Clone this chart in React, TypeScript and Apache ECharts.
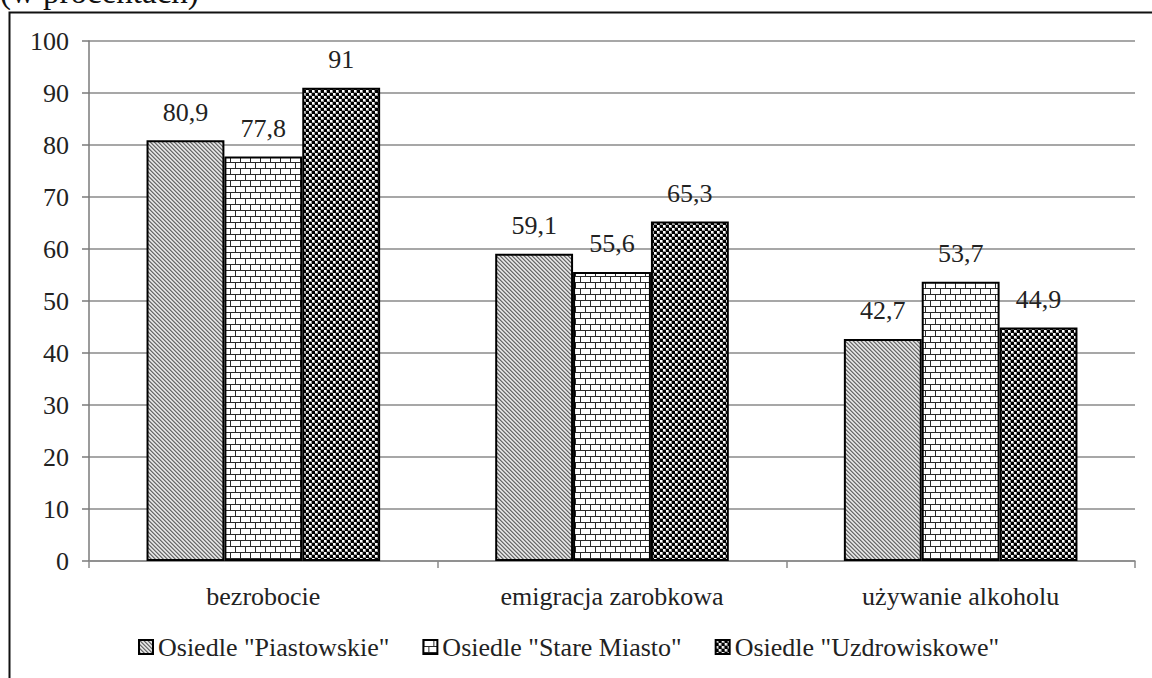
import React, { useEffect, useRef } from "react";
import * as echarts from "echarts";

const categories = ["bezrobocie", "emigracja zarobkowa", "używanie alkoholu"];
const seriesNames = [
  'Osiedle "Piastowskie"',
  'Osiedle "Stare Miasto"',
  'Osiedle "Uzdrowiskowe"',
];
const piastowskie = [80.9, 59.1, 42.7];
const stareMiasto = [77.8, 55.6, 53.7];
const uzdrowiskowe = [91, 65.3, 44.9];
const yTicks = { min: 0, max: 100, interval: 10 };
const titleText = "(w procentach)";

const FONT = "'Times New Roman', 'Liberation Serif', serif";

function hexToRgb(h: string) {
  const v = parseInt(h.slice(1), 16);
  return [(v >> 16) & 255, (v >> 8) & 255, v & 255];
}

function makeTile(w: number, h: number, fn: (x: number, y: number) => string) {
  const c = document.createElement("canvas");
  c.width = w;
  c.height = h;
  const ctx = c.getContext("2d")!;
  const img = ctx.createImageData(w, h);
  for (let y = 0; y < h; y++) {
    for (let x = 0; x < w; x++) {
      const [r, g, b] = hexToRgb(fn(x, y));
      const i = (y * w + x) * 4;
      img.data[i] = r;
      img.data[i + 1] = g;
      img.data[i + 2] = b;
      img.data[i + 3] = 255;
    }
  }
  ctx.putImageData(img, 0, 0);
  return c;
}

function diagonalTile() {
  const cols = ["#6a6a6a", "#a0a0a0", "#e8e8e8", "#d0d0d0"];
  return makeTile(4, 4, (x, y) => cols[(((x - y) % 4) + 4) % 4]);
}

function brickTile() {
  return makeTile(10, 12, (x, y) => {
    if (y === 0 || y === 6) return "#2a2a2a";
    if (y < 6 && x === 0) return "#2a2a2a";
    if (y > 6 && x === 5) return "#2a2a2a";
    return "#ffffff";
  });
}

function checkerTile() {
  return makeTile(6, 6, (x, y) => {
    const cx = Math.floor(x / 3);
    const cy = Math.floor(y / 3);
    const lx = x % 3;
    const ly = y % 3;
    if ((cx + cy) % 2 === 0) {
      if (lx < 2 && ly < 2) return "#ffffff";
      return "#9a9a9a";
    }
    return "#000000";
  });
}

const fmt = (p: any) => String(p.value).replace(".", ",");

export default function App() {
  const ref = useRef<HTMLDivElement>(null);
  useEffect(() => {
    if (!ref.current) return;
    const chart = echarts.init(ref.current, null, { renderer: "svg" });
    const patterns = [diagonalTile(), brickTile(), checkerTile()];
    const datas = [piastowskie, stareMiasto, uzdrowiskowe];
    const series = datas.map((d, i) => ({
      name: seriesNames[i],
      type: "bar",
      data: d,
      barGap: "0%",
      barCategoryGap: "33%",
      itemStyle: {
        color: { image: patterns[i], repeat: "repeat" } as any,
        borderColor: "#000",
        borderWidth: 2,
      },
      label: {
        show: true,
        position: "top",
        distance: 15,
        formatter: fmt,
        fontFamily: FONT,
        fontSize: 26,
        color: "#222",
      },
      emphasis: { disabled: true },
    }));
    chart.setOption({
      animation: false,
      grid: { left: 89, right: 17, top: 41, bottom: 117, containLabel: false },
      legend: {
        left: 133,
        top: 629,
        itemWidth: 14,
        itemHeight: 14,
        itemGap: 33,
        icon: "rect",
        textStyle: { fontFamily: FONT, fontSize: 26, color: "#222" },
        data: seriesNames,
      },
      xAxis: {
        type: "category",
        data: categories,
        axisLine: { lineStyle: { color: "#8a8a8a", width: 1.5 } },
        axisTick: { show: true, length: 7, lineStyle: { color: "#8a8a8a", width: 1.5 } },
        axisLabel: { fontFamily: FONT, fontSize: 26, color: "#222", margin: 22 },
      },
      yAxis: {
        type: "value",
        min: yTicks.min,
        max: yTicks.max,
        interval: yTicks.interval,
        axisLine: { show: true, lineStyle: { color: "#7a7a7a", width: 1.5 } },
        axisTick: { show: true, length: 7, lineStyle: { color: "#7a7a7a", width: 1.5 } },
        axisLabel: { fontFamily: FONT, fontSize: 26, color: "#222", margin: 20 },
        splitLine: { lineStyle: { color: "#8a8a8a", width: 1.5 } },
      },
      graphic: [
        {
          type: "polyline",
          shape: { points: [[9.5, 680], [9.5, 12.5], [1160, 12.5]] },
          style: { stroke: "#111", lineWidth: 2, fill: null },
          silent: true,
        },
        {
          type: "text",
          x: 0,
          y: -8,
          style: {
            text: titleText,
            fontFamily: FONT,
            fontSize: 33,
            fill: "#111",
            verticalAlign: "middle",
            align: "left",
          },
          silent: true,
        },
      ],
      series,
    });
    return () => chart.dispose();
  }, []);
  return (
    <div
      ref={ref}
      style={{ position: "absolute", left: 0, top: 0, width: 1152, height: 678, background: "#fff" }}
    />
  );
}
